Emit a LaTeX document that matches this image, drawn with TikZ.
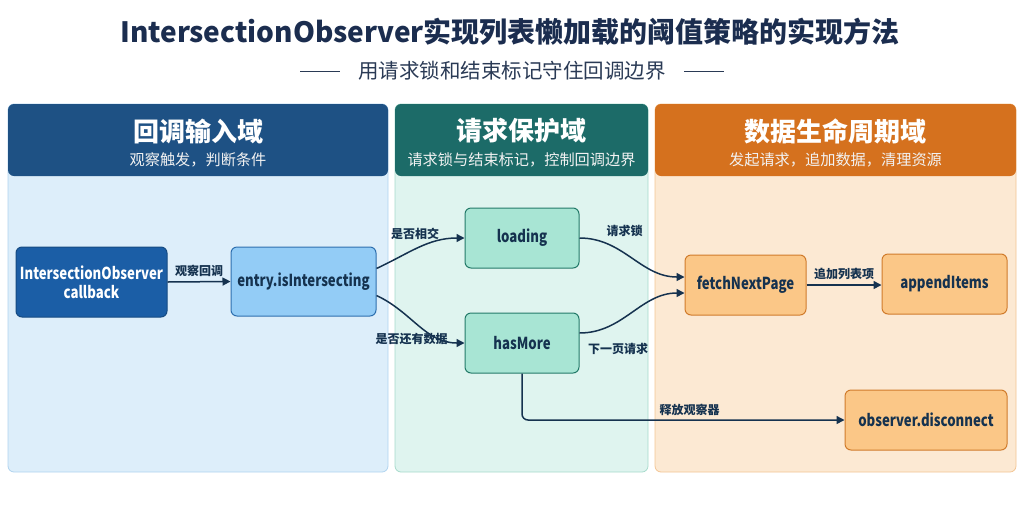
\documentclass[tikz,border=0pt]{standalone}
\usepackage{fontspec}
\setmainfont{Noto Sans CJK SC}
\newfontfamily\nodefont{Noto Sans CJK SC}[FakeStretch=0.8]
\usepackage{tikz}
\usetikzlibrary{arrows.meta,positioning,calc}
\definecolor{ioInk}{HTML}{15324F}
\definecolor{ioTitle}{HTML}{1B2D4F}
\definecolor{ioSub}{HTML}{2A3A55}
\definecolor{ioHeadA}{HTML}{1E5184}
\definecolor{ioBodyA}{HTML}{DDEEFA}
\definecolor{ioLineA}{HTML}{AFD3EF}
\definecolor{ioHeadB}{HTML}{1C6B68}
\definecolor{ioBodyB}{HTML}{DFF4EF}
\definecolor{ioLineB}{HTML}{A6DACB}
\definecolor{ioHeadC}{HTML}{D5711E}
\definecolor{ioBodyC}{HTML}{FCE9D3}
\definecolor{ioLineC}{HTML}{F3C594}
\definecolor{ioCb}{HTML}{1B5EA6}
\definecolor{ioCbLine}{HTML}{164B82}
\definecolor{ioEntry}{HTML}{93CCF6}
\definecolor{ioEntryLine}{HTML}{2E6FAF}
\definecolor{ioGuard}{HTML}{A8E5D4}
\definecolor{ioGuardLine}{HTML}{237A69}
\definecolor{ioData}{HTML}{FBC787}
\definecolor{ioDataLine}{HTML}{D07B2B}
\tikzset{
  domainbody/.style={rounded corners=6pt, line width=0.8pt, minimum height=368pt, inner sep=0pt},
  domainhead/.style={rounded corners=6pt, minimum height=72pt, inner sep=0pt},
  headtitle/.style={text=white, font=\fontsize{26}{30}\selectfont\bfseries},
  headsub/.style={text=white!95!black, font=\fontsize{15.2}{18}\selectfont},
  flownode/.style={draw, rounded corners=6pt, line width=1pt, align=center,
    font=\nodefont\fontsize{16.5}{20}\selectfont\bfseries, text=ioInk},
  cbnode/.style={flownode, fill=ioCb, draw=ioCbLine, text=white, minimum width=151pt, minimum height=70pt},
  entrynode/.style={flownode, fill=ioEntry, draw=ioEntryLine, minimum width=145pt, minimum height=69pt},
  guardnode/.style={flownode, fill=ioGuard, draw=ioGuardLine, minimum width=114pt, minimum height=60pt},
  datanode/.style={flownode, fill=ioData, draw=ioDataLine, minimum height=60pt},
  flowarrow/.style={-{Triangle[length=8pt,width=8pt]}, line width=1.5pt, ioInk},
  edgelabel/.style={font=\fontsize{12}{14}\selectfont\bfseries, text=ioInk, inner sep=1pt}
}
\begin{document}
\begin{tikzpicture}[x=1pt,y=-1pt]
  \useasboundingbox (0,0) rectangle (1024,512);
  % title
  \node[font=\fontsize{28}{33}\selectfont\bfseries, text=ioTitle] (title) at (510,32)
    {IntersectionObserver实现列表懒加载的阈值策略的实现方法};
  \node[font=\fontsize{20.5}{24}\selectfont, text=ioSub] (subtitle) at (512,71) {用请求锁和结束标记守住回调边界};
  \draw[ioSub, line width=0.8pt] ($(subtitle.west)+(-15,0)$) -- ++(-40,0);
  \draw[ioSub, line width=0.8pt] ($(subtitle.east)+(15,0)$) -- ++(40,0);

  % domains
  \node[domainbody, fill=ioBodyA, draw=ioLineA, minimum width=380pt] (bodyA) at (198,288) {};
  \node[domainhead, fill=ioHeadA, minimum width=380pt] (headA) at (198,140) {};
  \node[headtitle] at (198,131) {回调输入域};
  \node[headsub] at (198,160) {观察触发，判断条件};

  \node[domainbody, fill=ioBodyB, draw=ioLineB, minimum width=253pt] (bodyB) at (521.5,288) {};
  \node[domainhead, fill=ioHeadB, minimum width=253pt] (headB) at (521.5,140) {};
  \node[headtitle] at (521.5,131) {请求保护域};
  \node[headsub] at (521.5,160) {请求锁与结束标记，控制回调边界};

  \node[domainbody, fill=ioBodyC, draw=ioLineC, minimum width=361pt] (bodyC) at (835.5,288) {};
  \node[domainhead, fill=ioHeadC, minimum width=361pt] (headC) at (835.5,140) {};
  \node[headtitle] at (835.5,131) {数据生命周期域};
  \node[headsub] at (835.5,160) {发起请求，追加数据，清理资源};

  % nodes
  \node[cbnode] (cb) at (91.5,282) {IntersectionObserver\\[-1pt]callback};
  \node[entrynode] (entry) at (303.5,281.5) {entry.isIntersecting};
  \node[guardnode] (loading) at (522,238) {loading};
  \node[guardnode] (hasmore) at (522,343) {hasMore};
  \node[datanode, minimum width=121pt] (fetch) at (745.5,285) {fetchNextPage};
  \node[datanode, minimum width=125pt] (append) at (944.5,284) {appendItems};
  \node[datanode, minimum width=162pt] (disc) at (926,420) {observer.disconnect};

  % connectors
  \draw[flowarrow] (cb.east) -- node[edgelabel, above=3pt] {观察回调} (entry.west);
  \draw[flowarrow] ($(entry.east)+(0,-13)$) to[out=25,in=180] node[edgelabel, pos=0.45, above=8pt] {是否相交} (loading.west);
  \draw[flowarrow] ($(entry.east)+(0,14)$) to[out=-25,in=180] node[edgelabel, pos=0.4, below=12pt] {是否还有数据} (hasmore.west);
  \draw[flowarrow] (loading.east) to[out=0,in=180] node[edgelabel, pos=0.42, above=14pt] {请求锁} ($(fetch.west)+(0,-8)$);
  \draw[flowarrow] ($(hasmore.east)+(0,-10)$) to[out=0,in=180] node[edgelabel, pos=0.35, below=20pt] {下一页请求} ($(fetch.west)+(0,8)$);
  \draw[flowarrow] (fetch.east) -- node[edgelabel, above=3pt] {追加列表项} ($(append.west)+(0,1)$);
  \draw[flowarrow, rounded corners=6pt] (hasmore.south) |- node[edgelabel, pos=0.76, above=3pt] {释放观察器} (disc.west);
\end{tikzpicture}
\end{document}
